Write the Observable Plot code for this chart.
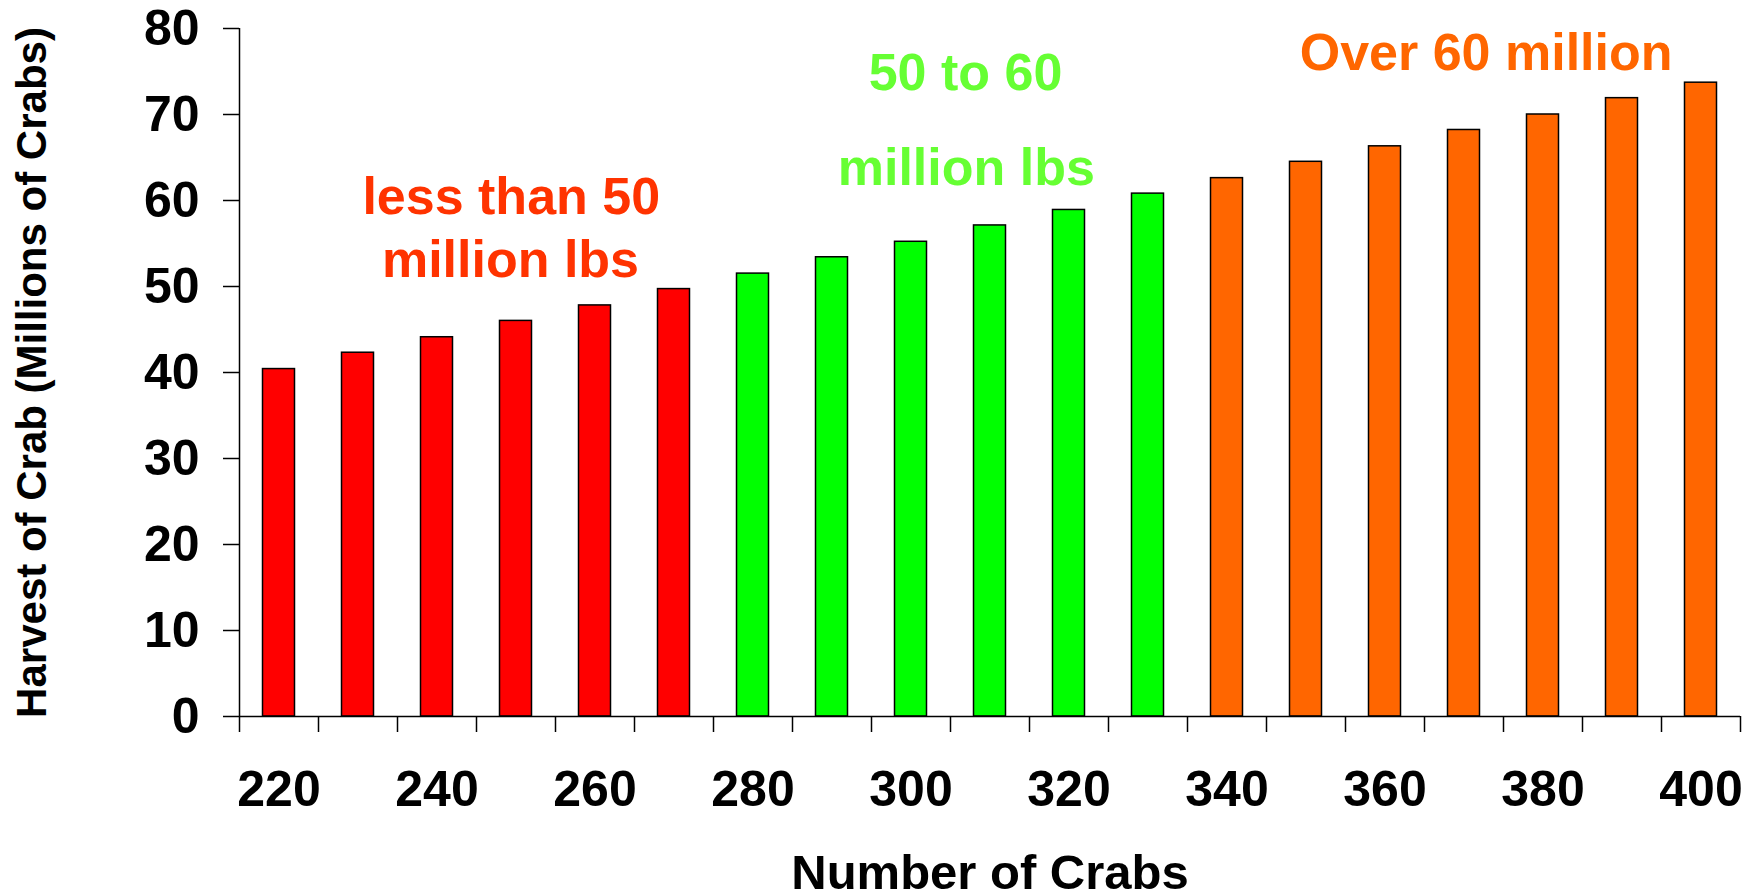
<!DOCTYPE html>
<html>
<head>
<meta charset="utf-8">
<script src="https://cdn.jsdelivr.net/npm/d3@7"></script>
<script src="https://cdn.jsdelivr.net/npm/@observablehq/plot@0.6"></script>
<style>
  html, body { margin: 0; padding: 0; background: #ffffff; }
  #chart { width: 1760px; height: 896px; }
</style>
</head>
<body>
<div id="chart"></div>
<script>
// Number of crabs (x categories)
const crabs = [220, 230, 240, 250, 260, 270, 280, 290, 300, 310, 320, 330, 340, 350, 360, 370, 380, 390, 400];
// Harvest of crab (millions)
const harvest = [40.4, 42.3, 44.1, 46.0, 47.8, 49.7, 51.5, 53.4, 55.2, 57.1, 58.9, 60.8, 62.6, 64.5, 66.3, 68.2, 70.0, 71.9, 73.7];
// Harvest group of each bar
const groups = ["low", "low", "low", "low", "low", "low", "mid", "mid", "mid", "mid", "mid", "mid", "high", "high", "high", "high", "high", "high", "high"];
const groupNames = ["low", "mid", "high"];
const barColors = ["#FF0000", "#00FF00", "#FF6600"];
// Tick labels
const xTickLabels = [220, 240, 260, 280, 300, 320, 340, 360, 380, 400];
const yTickLabels = [0, 10, 20, 30, 40, 50, 60, 70, 80];
// Annotation lines (text, group, data position)
const noteText = ["less than 50", "million lbs", "50 to 60", "million lbs", "Over 60 million"];
const noteGroup = ["low", "low", "mid", "mid", "high"];
const noteX = [249.4, 249.3, 306.9, 307.0, 372.8];
const noteY = [58.45, 51.08, 72.87, 61.86, 75.23];
const noteColors = {low: "#FF3300", mid: "#66FF33", high: "#FF6600"};

const xTitle = "Number of Crabs";
const yTitle = "Harvest of Crab (Millions of Crabs)";

const half = 5; // half of the category step (10 crabs)
const data = crabs.map((c, i) => ({crabs: c, harvest: harvest[i], group: groups[i]}));
const boundaries = crabs.map(c => c - half).concat([crabs[crabs.length - 1] + half]);
const notes = noteText.map((t, i) => ({text: t, group: noteGroup[i], x: noteX[i], y: noteY[i]}));

const chart = Plot.plot({
  width: 1760,
  height: 896,
  marginLeft: 239,
  marginRight: 20,
  marginTop: 28,
  marginBottom: 180,
  style: {fontFamily: "'Liberation Sans', Arial, sans-serif", fontWeight: "bold", color: "#000", background: "#fff"},
  x: {domain: [crabs[0] - half, crabs[crabs.length - 1] + half], axis: null},
  y: {domain: [0, 80], axis: null},
  color: {domain: groupNames, range: barColors},
  marks: [
    Plot.rectY(data, {
      x1: d => d.crabs - half,
      x2: d => d.crabs + half,
      y1: 0,
      y2: "harvest",
      fill: "group",
      stroke: "#000",
      strokeWidth: 1.5,
      insetLeft: 23.5,
      insetRight: 23.5
    }),
    Plot.ruleY([0], {stroke: "#000", strokeWidth: 1.5}),
    Plot.ruleX([crabs[0] - half], {stroke: "#000", strokeWidth: 1.5}),
    Plot.axisY({ticks: yTickLabels, tickSize: 16, tickPadding: 24, fontSize: 50, label: null, tickFormat: d => String(d), stroke: "#000", strokeWidth: 1.5}),
    Plot.axisX({ticks: boundaries, tickSize: 16, tickFormat: () => "", label: null, stroke: "#000", strokeWidth: 1.5}),
    Plot.axisX({ticks: xTickLabels, tickSize: 0, tickPadding: 54, fontSize: 50, label: null, tickFormat: d => String(d)}),
    Plot.text(notes, {
      x: "x", y: "y", text: "text",
      fill: d => noteColors[d.group],
      fontSize: 52, fontWeight: "bold",
      lineAnchor: "bottom", textAnchor: "middle"
    }),
    Plot.text([xTitle], {
      frameAnchor: "bottom", dy: 172, lineAnchor: "bottom", textAnchor: "middle",
      fontSize: 49, fontWeight: "bold", fill: "#000"
    }),
    Plot.text([yTitle], {
      frameAnchor: "left", dx: -194, rotate: -90, lineAnchor: "bottom", textAnchor: "middle",
      fontSize: 42, fontWeight: "bold", fill: "#000"
    })
  ]
});
document.getElementById("chart").appendChild(chart);
</script>
</body>
</html>
